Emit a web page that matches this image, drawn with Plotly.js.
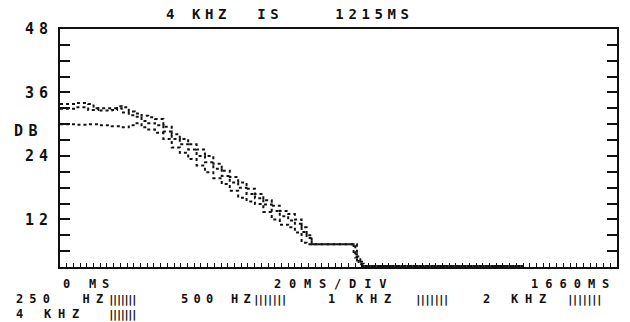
<!DOCTYPE html>
<html>
<head>
<meta charset="utf-8">
<script src="https://cdn.plot.ly/plotly-3.0.1.min.js"></script>
<style>html,body{margin:0;padding:0;background:#fff;}#chart{width:630px;height:322px;}</style>
</head>
<body>
<div id="chart"></div>
<script>
// ---- data (time in ms, level in dB) ----
const timeA  = [0, 45, 84, 100, 114, 154, 170, 184, 205, 223, 243, 263, 283, 308, 333, 357, 382, 407, 432, 457, 482, 506, 531, 556, 581, 606, 631, 655, 680, 700, 720, 735, 750, 869, 875, 885, 900, 1380];
const levelA = [33.8, 34.0, 33.8, 33.0, 32.6, 32.7, 33.4, 33.2, 32.4, 32.0, 31.6, 31.3, 31.0, 29.5, 28.1, 27.2, 26.2, 25.2, 24.0, 22.5, 21.2, 20.0, 19.0, 17.8, 16.8, 15.6, 14.6, 13.6, 13.0, 12.0, 10.5, 9.0, 7.3, 7.3, 5.4, 4.0, 3.2, 3.2];

const timeB  = [0, 45, 84, 114, 154, 184, 205, 223, 243, 263, 283, 308, 333, 357, 382, 407, 432, 457, 482, 506, 531, 556, 581, 606, 631, 655, 680, 700, 720, 735, 750, 869, 880, 890, 900, 1380];
const levelB = [32.9, 33.2, 32.7, 33.0, 33.0, 32.2, 31.7, 31.4, 30.6, 30.2, 29.8, 28.6, 27.2, 26.2, 25.2, 24.0, 22.8, 21.6, 20.2, 19.0, 18.0, 16.8, 16.0, 14.8, 13.6, 12.6, 11.8, 11.2, 9.6, 8.5, 7.3, 7.3, 4.8, 3.5, 3.2, 3.2];

const timeC  = [0, 45, 84, 114, 154, 184, 205, 223, 243, 263, 283, 308, 333, 357, 382, 407, 432, 457, 482, 506, 531, 556, 581, 606, 631, 655, 680, 700, 720, 735, 750, 869, 885, 895, 905, 1380];
const levelC = [30.0, 29.9, 30.0, 29.8, 29.6, 29.4, 29.8, 30.2, 29.4, 29.0, 28.4, 27.2, 25.6, 24.6, 23.4, 22.2, 20.9, 19.8, 18.7, 17.4, 16.1, 15.4, 14.9, 13.4, 12.0, 11.0, 10.5, 9.5, 7.6, 7.3, 7.3, 7.3, 5.0, 3.6, 3.2, 3.2];

const yTickVals = [6, 9, 12, 15, 18, 21, 24, 27, 30, 33, 36, 39, 42, 45, 48];
const yTickText = ['', '', '12', '', '', '', '24', '', '', '', '36', '', '', '', '48'];

const titleText = '4 KHZ  IS    1215MS';
const yLabel = 'DB';
const xStartLabel = '0 MS';
const xDivLabel = '20MS/DIV';
const xEndLabel = '1660MS';
const bandLabels = ['250  HZ', '500 HZ', '1 KHZ', '2 KHZ', '4 KHZ'];
const bandBars = '|||||||';

// ---- layout helpers ----
const L = 60, R = 617, T = 29, B = 267;
const W = R - L, H = B - T;
const FONT = 'DejaVu Sans Mono';
const annotations = [];
const spacing = [];
function label(px, py, text, size, ls) {
  annotations.push({
    xref: 'paper', yref: 'paper',
    x: (px - L) / W, y: (B - py) / H,
    xanchor: 'left', yanchor: 'middle', align: 'left',
    borderpad: 0,
    text: text, showarrow: false,
    font: {family: FONT, size: size, color: '#111', weight: 'bold'}
  });
  spacing.push(ls);
}
label(165, 14, titleText, 14, 4.6);
label(13, 131, yLabel, 15, 5.5);
label(62, 284, xStartLabel, 12, 5.8);
label(273, 284, xDivLabel, 12, 7.8);
label(530, 284, xEndLabel, 12, 7.0);
label(15, 299, bandLabels[0], 12, 6.1);
label(180, 299, bandLabels[1], 12, 5.3);
label(327, 299, bandLabels[2], 12, 6.8);
label(482, 299, bandLabels[3], 12, 6.8);
label(15, 314, bandLabels[4], 12, 6.8);
label(107, 299, bandBars, 11, -2.8);
label(252, 299, bandBars, 11, -2.0);
label(414, 299, bandBars, 11, -2.0);
label(566, 299, bandBars, 11, -1.8);
label(107, 314, bandBars, 11, -2.8);

const lineStyle = {color: '#111', width: 2, dash: 'dot', shape: 'hv'};
const traces = [
  {x: timeA, y: levelA, mode: 'lines', line: lineStyle, hoverinfo: 'skip'},
  {x: timeB, y: levelB, mode: 'lines', line: lineStyle, hoverinfo: 'skip'},
  {x: timeC, y: levelC, mode: 'lines', line: lineStyle, hoverinfo: 'skip'}
];

const layout = {
  width: 630, height: 322,
  margin: {l: L, r: 630 - R, t: T, b: 322 - B, pad: 0},
  paper_bgcolor: '#fff', plot_bgcolor: '#fff',
  showlegend: false,
  xaxis: {
    range: [0, 1660], showgrid: false, zeroline: false,
    showline: true, linecolor: '#111', linewidth: 2, mirror: true,
    ticks: 'inside', tickmode: 'linear', tick0: 0, dtick: 20,
    ticklen: 4, tickwidth: 1, tickcolor: '#111',
    showticklabels: false
  },
  yaxis: {
    range: [3, 48], showgrid: false, zeroline: false,
    showline: true, linecolor: '#111', linewidth: 2, mirror: 'ticks',
    ticks: 'inside', tickmode: 'array', tickvals: yTickVals, ticktext: yTickText,
    ticklen: 10, tickwidth: 2, tickcolor: '#111',
    ticklabelstandoff: 2,
    tickfont: {family: FONT, size: 15, color: '#111', weight: 'bold'}
  },
  annotations: annotations
};

Plotly.newPlot('chart', traces, layout, {staticPlot: true, displayModeBar: false}).then(function () {
  document.querySelectorAll('.annotation').forEach(function (g) {
    const i = +g.getAttribute('data-index');
    const t = g.querySelector('text.annotation-text');
    if (t && spacing[i] !== undefined) t.style.letterSpacing = spacing[i] + 'px';
  });
  document.querySelectorAll('.ytick text').forEach(function (t) {
    t.style.letterSpacing = '5px';
  });
});
</script>
</body>
</html>
